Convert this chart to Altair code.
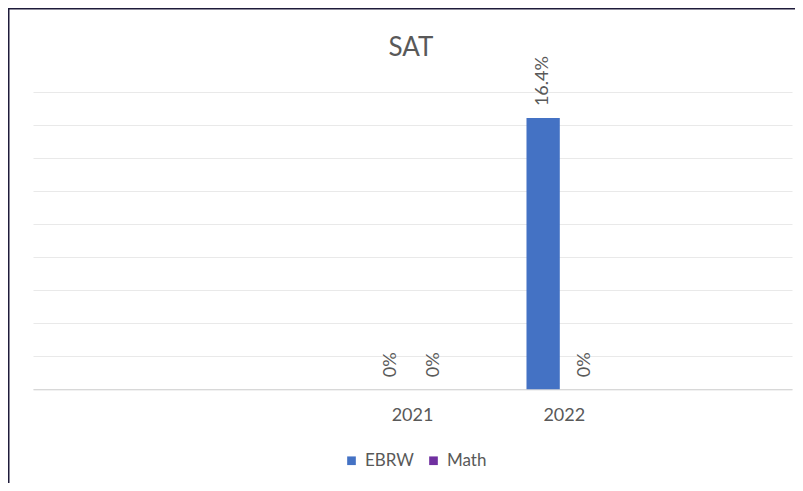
import altair as alt
import pandas as pd

# ---- data ----
categories = ["", " ", "2021", "2022", "  "]
years = ["2021", "2021", "2022", "2022"]
subjects = ["EBRW", "Math", "EBRW", "Math"]
values = [0.0, 0.0, 16.4, 0.0]
series = ["EBRW", "Math"]
colors = ["#4472C4", "#7030A0"]
grid_values = [0, 2, 4, 6, 8, 10, 12, 14, 16, 18]

df = pd.DataFrame({"year": years, "subject": subjects, "value": values})

FONT = "Lato"
GRAY = "#595959"
W, H = 787, 475

x = alt.X(
    "year:N",
    scale=alt.Scale(domain=categories, range=[25, 784], paddingInner=0, paddingOuter=0),
    axis=alt.Axis(
        title=None, labelAngle=0, ticks=False, grid=False,
        domainColor="#d0d0d0", domainWidth=1, offset=-93.7,
        labelPadding=17, labelFont=FONT, labelFontSize=18, labelColor=GRAY,
    ),
)
xo = alt.XOffset("subject:N", scale=alt.Scale(domain=series, paddingInner=0.213, paddingOuter=0.9))
y = alt.Y(
    "value:Q",
    scale=alt.Scale(domain=[-5.67, 23.06], nice=False, zero=False),
    axis=alt.Axis(
        title=None, values=grid_values, labels=False, ticks=False, domain=False,
        grid=True, gridColor="#e9e9e9", gridWidth=1,
    ),
)
color = alt.Color(
    "subject:N",
    scale=alt.Scale(domain=series, range=colors),
    legend=alt.Legend(
        title=None, orient="none", direction="horizontal", legendX=335, legendY=444,
        symbolType="square", symbolSize=75, symbolStrokeWidth=0,
        labelFont=FONT, labelFontSize=17, labelColor=GRAY,
        columnPadding=11, labelOffset=5, padding=0,
    ),
)

base = alt.Chart(df)

bars = base.mark_bar().encode(x=x, xOffset=xo, y=y, y2=alt.datum(0), color=color)

labels = base.transform_calculate(
    label="format(datum.value, '.1~f') + '%'"
).mark_text(
    angle=270, align="left", baseline="middle", dx=12,
    font=FONT, fontSize=18, color=GRAY,
).encode(x=x, xOffset=xo, y=y, text="label:N")

chart = alt.layer(bars, labels).properties(
    width=W, height=H, padding=0, background="white",
    autosize=alt.AutoSizeParams(type="none"),
    title=alt.TitleParams(
        "SAT", frame="group", anchor="middle", orient="top", offset=-74,
        baseline="alphabetic", dx=9.5, font=FONT, fontSize=26, fontWeight="normal", color=GRAY,
    ),
).configure_view(
    stroke="#1e1b3a", strokeWidth=3, strokeDash=[W, H + W, H],
)

chart.save("out.html", embed_options={"renderer": "svg", "actions": False})
